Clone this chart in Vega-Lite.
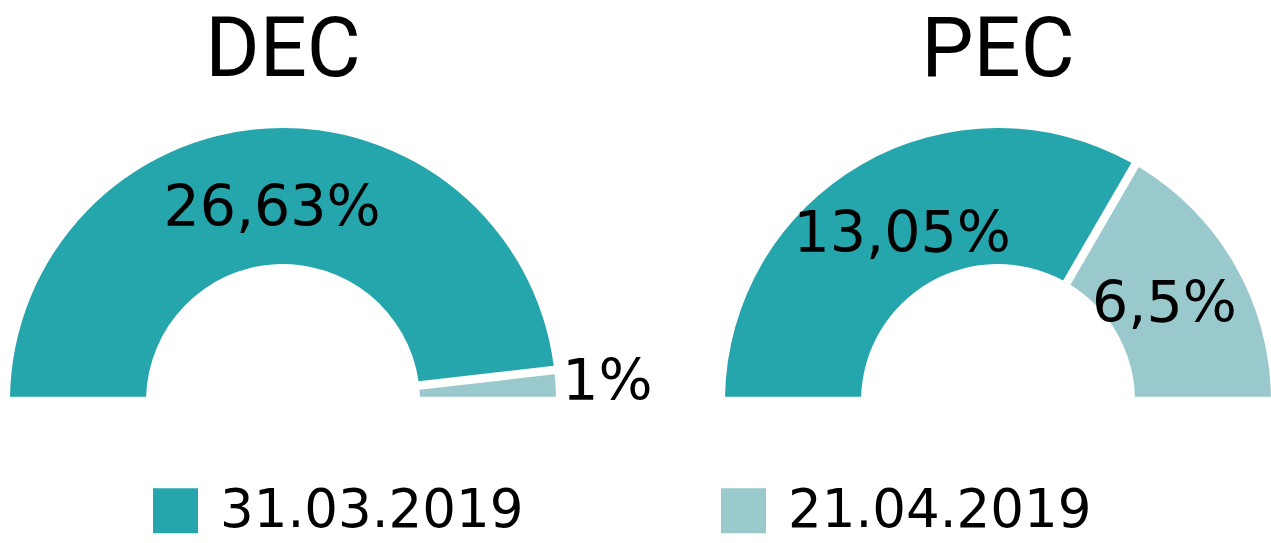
{
  "$schema": "https://vega.github.io/schema/vega-lite/v6.json",
  "padding": {"top": 10, "left": 3, "right": 0, "bottom": 0},
  "bounds": "flush",
  "background": "white",
  "data": {
    "values": [
      {"group": "DEC", "date": "31.03.2019", "k": 1, "value": 26.63, "label": "26,63%"},
      {"group": "DEC", "date": "21.04.2019", "k": 2, "value": 1, "label": "1%"},
      {"group": "PEC", "date": "31.03.2019", "k": 1, "value": 13.05, "label": "13,05%"},
      {"group": "PEC", "date": "21.04.2019", "k": 2, "value": 6.5, "label": "6,5%"}
    ]
  },
  "facet": {
    "column": {
      "field": "group",
      "type": "nominal",
      "sort": ["DEC", "PEC"],
      "title": null,
      "header": {
        "labelFont": "Roboto",
        "labelFontSize": 83,
        "labelColor": "black",
        "labelPadding": 26
      }
    }
  },
  "spacing": 155,
  "spec": {
    "width": 560,
    "height": 282,
    "layer": [
      {
        "mark": {"type": "arc", "innerRadius": 137, "outerRadius": 273, "padAngle": 0.028, "y": "height"},
        "encoding": {
          "theta": {"field": "value", "type": "quantitative", "stack": "normalize", "scale": {"range": [-1.5708, 1.5708]}},
          "order": {"field": "k", "type": "quantitative"},
          "color": {
            "field": "date",
            "type": "nominal",
            "scale": {"domain": ["31.03.2019", "21.04.2019"], "range": ["#25A5AC", "#99C9CD"]},
            "legend": {
              "title": null,
              "orient": "none",
              "direction": "horizontal",
              "legendX": 146,
              "legendY": 365,
              "symbolType": "square",
              "symbolSize": 2025,
              "symbolStrokeWidth": 0,
              "symbolOpacity": 1,
              "labelFont": "DejaVu Sans",
              "labelFontSize": 53,
              "labelColor": "black",
              "labelOffset": 18,
              "labelLimit": 500,
              "columnPadding": 193
            }
          }
        }
      },
      {
        "mark": {"type": "text", "y": "height", "font": "DejaVu Sans", "fontSize": 57, "color": "black"},
        "encoding": {
          "theta": {"field": "value", "type": "quantitative", "stack": "normalize", "scale": {"range": [-1.5708, 1.5708]}},
          "order": {"field": "k", "type": "quantitative"},
          "radius": {"field": "value", "type": "quantitative", "scale": {"type": "linear", "domain": [1, 5], "range": [325, 192], "clamp": true, "zero": false}},
          "text": {"field": "label", "type": "nominal"}
        }
      }
    ]
  },
  "config": {
    "view": {"stroke": null}
  }
}
